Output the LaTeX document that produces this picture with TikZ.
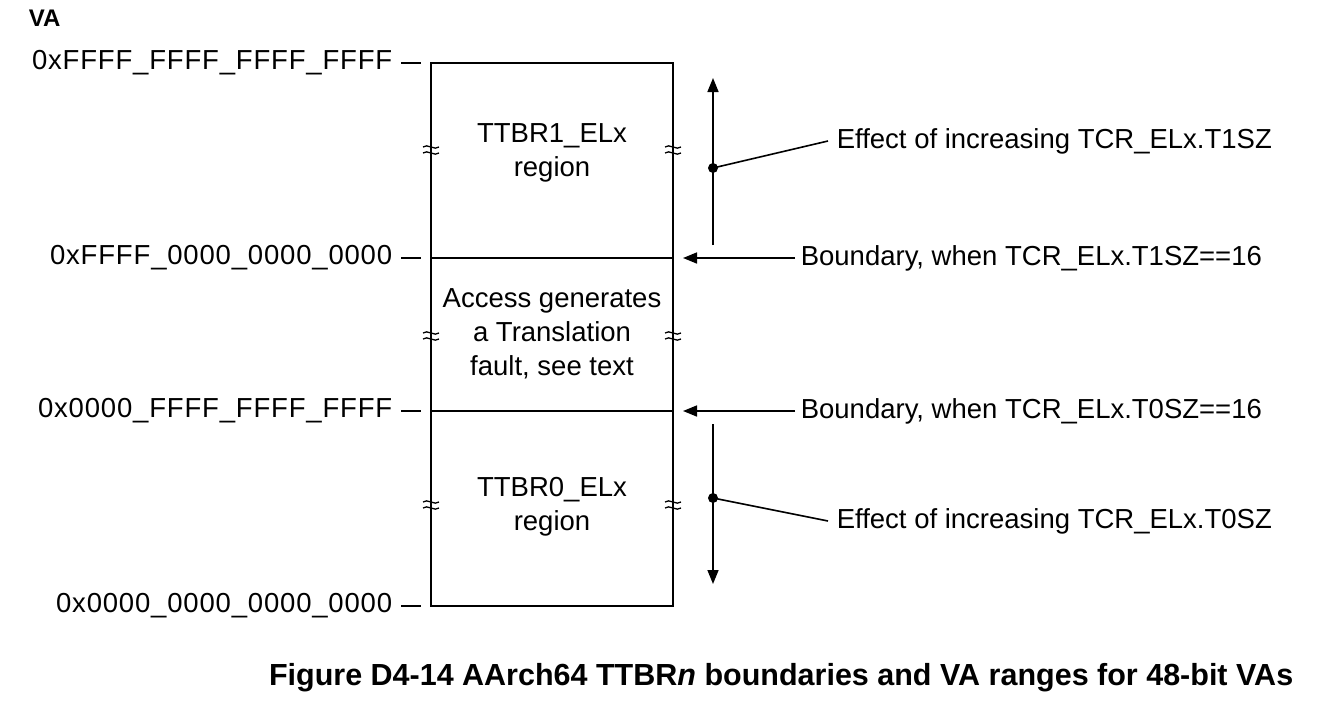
\documentclass[tikz,border=0pt]{standalone}
\usepackage{fontspec}
\setmainfont{Liberation Sans}
\usetikzlibrary{arrows.meta}
\begin{document}
\begin{tikzpicture}[x=1pt,y=-1pt,line width=1.6pt,
  lbl/.style={font=\fontsize{27.5}{32}\selectfont,inner sep=0pt},
  brk/.style={line width=1.3pt},
  arr/.style={-{Triangle[length=14pt,width=11pt]}}]
\useasboundingbox (0,0) rectangle (1324,710);
\node[lbl,font=\fontsize{24}{28}\selectfont\bfseries,anchor=west] (va) at (28,18) {VA};
\draw (431,63) rectangle (673,606);
\draw (431,258) -- (673,258);
\draw (431,411) -- (673,411);
\foreach \y/\t/\n in {63/0xFFFF\_FFFF\_FFFF\_FFFF/a,258/0xFFFF\_0000\_0000\_0000/b,411/0x0000\_FFFF\_FFFF\_FFFF/c,606/0x0000\_0000\_0000\_0000/d}{
  \node[lbl,anchor=east,font=\fontsize{27.5}{32}\selectfont\addfontfeature{LetterSpace=3}] (h\n) at (393,\y) {\t};
  \draw (401,\y) -- (421,\y);
}
\foreach \x in {431,673}{\foreach \y in {150,336,505}{
  \draw[brk] (\x-8,\y-3) .. controls (\x-4,\y-7) and (\x+4,\y+1) .. (\x+8,\y-3);
  \draw[brk] (\x-8,\y+3) .. controls (\x-4,\y-1) and (\x+4,\y+7) .. (\x+8,\y+3);
}}
\node[lbl,align=center,font=\fontsize{27.5}{34}\selectfont] (r1) at (552,153) {TTBR1\_ELx\\region};
\node[lbl,align=center,font=\fontsize{27.5}{34}\selectfont] (mid) at (552,334) {Access generates\\a Translation\\fault, see text};
\node[lbl,align=center,font=\fontsize{27.5}{34}\selectfont] (r0) at (552,507) {TTBR0\_ELx\\region};
\coordinate (u0) at (713,245); \coordinate (u1) at (713,78);
\coordinate (d0) at (713,424); \coordinate (d1) at (713,584);
\draw[arr] (u0) -- (u1);
\draw[arr] (d0) -- (d1);
\fill (713,168) circle (5pt) coordinate (p1);
\fill (713,498) circle (5pt) coordinate (p0);
\node[lbl,anchor=west] (e1) at (836,141) {Effect of increasing TCR\_ELx.T1SZ};
\node[lbl,anchor=west] (e0) at (836,521) {Effect of increasing TCR\_ELx.T0SZ};
\draw (p1) -- ([xshift=-8pt]e1.west);
\draw (p0) -- ([xshift=-8pt]e0.west);
\node[lbl,anchor=west] (b1) at (800,258) {Boundary, when TCR\_ELx.T1SZ==16};
\node[lbl,anchor=west] (b0) at (800,411) {Boundary, when TCR\_ELx.T0SZ==16};
\coordinate (t1) at (683,258); \coordinate (t0) at (683,411);
\draw[arr] (b1.west) ++(-5,0) -- (t1);
\draw[arr] (b0.west) ++(-5,0) -- (t0);
\node[lbl,anchor=east,font=\fontsize{30.5}{34}\selectfont\bfseries] (cap) at (1294,678) {Figure D4-14 AArch64 TTBR\textit{n} boundaries and VA ranges for 48-bit VAs};
\end{tikzpicture}
\end{document}
